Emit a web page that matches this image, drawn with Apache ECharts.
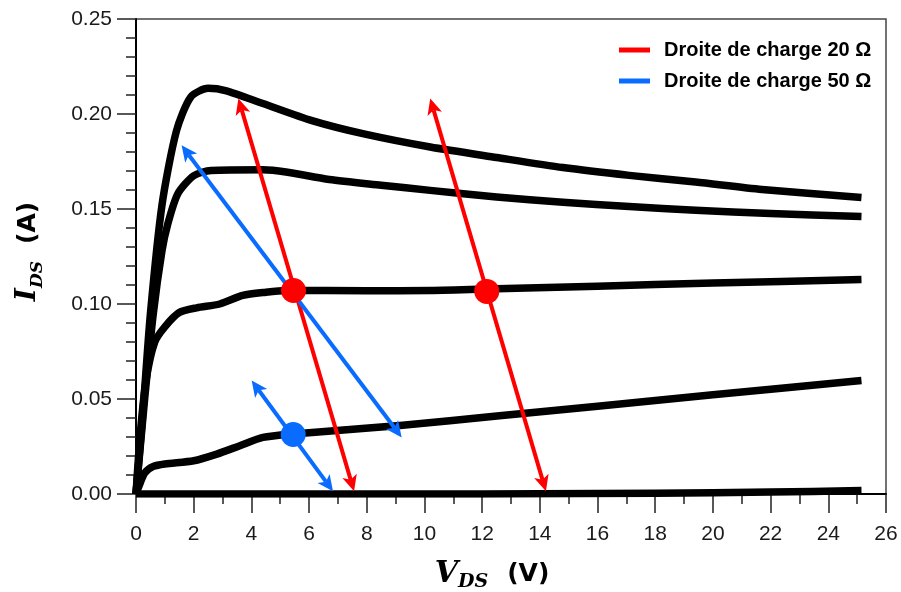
<!DOCTYPE html>
<html>
<head>
<meta charset="utf-8">
<script src="https://cdn.jsdelivr.net/npm/echarts@6/dist/echarts.min.js"></script>
<style>html,body{margin:0;padding:0;background:#fff;}#chart{width:901px;height:592px;}</style>
</head>
<body>
<div id="chart"></div>
<script>
// ---- data ----
const curve1 = [[0,0],[0.25,0.045],[0.5,0.095],[0.9,0.152],[1.4,0.191],[1.9,0.209],[2.5,0.2135],[3.1,0.2123],[4.4,0.2055],[6.1,0.1965],[7.9,0.1895],[10.2,0.1826],[12.5,0.1771],[14.8,0.1718],[17.1,0.1677],[19.4,0.1642],[21.7,0.1603],[25.15,0.156]];
const curve2 = [[0,0],[0.3,0.05],[0.6,0.095],[0.9,0.128],[1.1,0.142],[1.45,0.158],[2.0,0.1675],[2.6,0.1703],[4.4,0.1707],[5.2,0.1695],[6.7,0.1655],[8.5,0.1625],[10.2,0.1598],[12.5,0.1563],[14.8,0.1536],[17.1,0.1513],[19.4,0.1493],[22,0.1476],[25.15,0.1461]];
const curve3 = [[0,0],[0.15,0.032],[0.35,0.06],[0.65,0.08],[1.0,0.088],[1.5,0.0955],[2.1,0.098],[2.9,0.1],[3.7,0.1045],[4.5,0.1062],[5.2,0.1071],[8,0.107],[10.2,0.1071],[12.5,0.108],[16,0.1094],[20,0.111],[25.15,0.1129]];
const curve4 = [[0,0],[0.1,0.004],[0.3,0.011],[0.6,0.0145],[1.0,0.0158],[2.0,0.0175],[2.8,0.021],[3.6,0.0254],[4.4,0.0298],[5.45,0.0316],[9.15,0.036],[12.6,0.0412],[16,0.0462],[20,0.0522],[25.15,0.0597]];
const curve5 = [[0,0],[10,0],[14,0.0001],[18,0.0004],[22,0.001],[25.15,0.0018]];

// load lines: [x1, y1, x2, y2] (arrow tips)
const load20 = [[3.55,0.2081,7.56,0.0014],[10.2,0.2081,14.21,0.0014]];
const load50 = [[1.58,0.1835,9.21,0.0298],[4.01,0.0597,6.83,0.0014]];
// operating points
const pts20 = [[5.46,0.1071],[12.16,0.1066]];
const pts50 = [[5.45,0.0313]];

const name20 = 'Droite de charge 20 Ω';
const name50 = 'Droite de charge 50 Ω';
const RED = '#ff0000', BLUE = '#0a6cff';

function arrowRender(params, api) {
  const p1 = api.coord([api.value(0), api.value(1)]);
  const p2 = api.coord([api.value(2), api.value(3)]);
  const dx = p2[0]-p1[0], dy = p2[1]-p1[1];
  const len = Math.hypot(dx, dy);
  const ux = dx/len, uy = dy/len, nx = -uy, ny = ux;
  const HL = 16, HW = 7.5, NOTCH = 12;
  const color = api.visual('color');
  function head(tip, s) {
    const bx = tip[0] + s*ux*HL, by = tip[1] + s*uy*HL;
    const mx = tip[0] + s*ux*NOTCH, my = tip[1] + s*uy*NOTCH;
    return {type:'polygon', shape:{points:[tip,[bx+nx*HW,by+ny*HW],[mx,my],[bx-nx*HW,by-ny*HW]]}, style:{fill:color}};
  }
  return {type:'group', children:[
    {type:'line', shape:{x1:p1[0]+ux*NOTCH, y1:p1[1]+uy*NOTCH, x2:p2[0]-ux*NOTCH, y2:p2[1]-uy*NOTCH}, style:{stroke:color, lineWidth:4}},
    head(p1, 1), head(p2, -1)
  ]};
}

function curveSeries(d) {
  return {type:'line', data:d, showSymbol:false, smooth:0.25, z:2, silent:true,
    lineStyle:{color:'#000', width:7.5, cap:'butt', join:'round'}};
}

const axisFont = {fontFamily:'Liberation Sans', fontSize:21, color:'#1a1a1a'};
const chart = echarts.init(document.getElementById('chart'));
chart.setOption({
  animation:false,
  backgroundColor:'#fff',
  grid:{left:136, right:15, top:19, bottom:98, show:true, borderColor:'#444', borderWidth:1.5, containLabel:false, outerBoundsMode:'none'},
  legend:{
    orient:'vertical', left:614, top:35, itemWidth:31, itemHeight:5, itemGap:11,
    data:[{name:name20, icon:'rect', itemStyle:{color:RED}},{name:name50, icon:'rect', itemStyle:{color:BLUE}}],
    textStyle:{fontFamily:'Liberation Sans', fontWeight:'bold', fontSize:20, lineHeight:20, color:'#000', padding:[0,0,0,9]}
  },
  xAxis:{
    type:'value', min:0, max:26, interval:2,
    axisLine:{show:true, onZero:false, lineStyle:{color:'#000', width:2}},
    axisTick:{show:true, length:19, lineStyle:{color:'#222', width:1.5}},
    minorTick:{show:true, splitNumber:2, length:10, lineStyle:{color:'#222', width:1.5}},
    splitLine:{show:false},
    axisLabel:Object.assign({margin:30}, axisFont),
    name:'{v|V}{s|DS}{u|(V)}', nameLocation:'middle', nameGap:62,
    nameTextStyle:{padding:[0,38,0,0], rich:{
      v:{fontFamily:'DejaVu Serif', fontStyle:'italic', fontWeight:'bold', fontSize:30, lineHeight:36, color:'#000'},
      s:{fontFamily:'DejaVu Serif', fontStyle:'italic', fontWeight:'bold', fontSize:19, lineHeight:20, verticalAlign:'bottom', color:'#000'},
      u:{fontFamily:'DejaVu Sans', fontWeight:'bold', fontSize:25, lineHeight:36, padding:[0,0,0,19], color:'#000'}
    }}
  },
  yAxis:{
    type:'value', min:0, max:0.25, interval:0.05,
    axisLine:{show:true, onZero:false, lineStyle:{color:'#000', width:2}},
    axisTick:{show:true, length:19, lineStyle:{color:'#222', width:1.5}},
    minorTick:{show:true, splitNumber:5, length:10, lineStyle:{color:'#222', width:1.5}},
    splitLine:{show:false},
    axisLabel:Object.assign({margin:24, formatter:v=>v.toFixed(2)}, axisFont),
    name:'{v|I}{s|DS}{u|(A)}', nameLocation:'middle', nameGap:90, nameRotate:90,
    nameTextStyle:{padding:[0,0,0,10], rich:{
      v:{fontFamily:'DejaVu Serif', fontStyle:'italic', fontWeight:'bold', fontSize:28, lineHeight:36, color:'#000'},
      s:{fontFamily:'DejaVu Serif', fontStyle:'italic', fontWeight:'bold', fontSize:17, lineHeight:20, verticalAlign:'bottom', color:'#000'},
      u:{fontFamily:'DejaVu Sans', fontWeight:'bold', fontSize:25, lineHeight:36, padding:[0,0,0,17], color:'#000'}
    }}
  },
  series:[
    curveSeries(curve1), curveSeries(curve2), curveSeries(curve3), curveSeries(curve4), curveSeries(curve5),
    {type:'custom', name:name20, data:load20, renderItem:arrowRender, itemStyle:{color:RED}, z:3, silent:true},
    {type:'custom', name:name50, data:load50, renderItem:arrowRender, itemStyle:{color:BLUE}, z:3, silent:true},
    {type:'scatter', data:pts20, symbolSize:25, itemStyle:{color:RED, opacity:1}, z:4, silent:true},
    {type:'scatter', data:pts50, symbolSize:25, itemStyle:{color:BLUE, opacity:1}, z:4, silent:true}
  ]
});
</script>
</body>
</html>
